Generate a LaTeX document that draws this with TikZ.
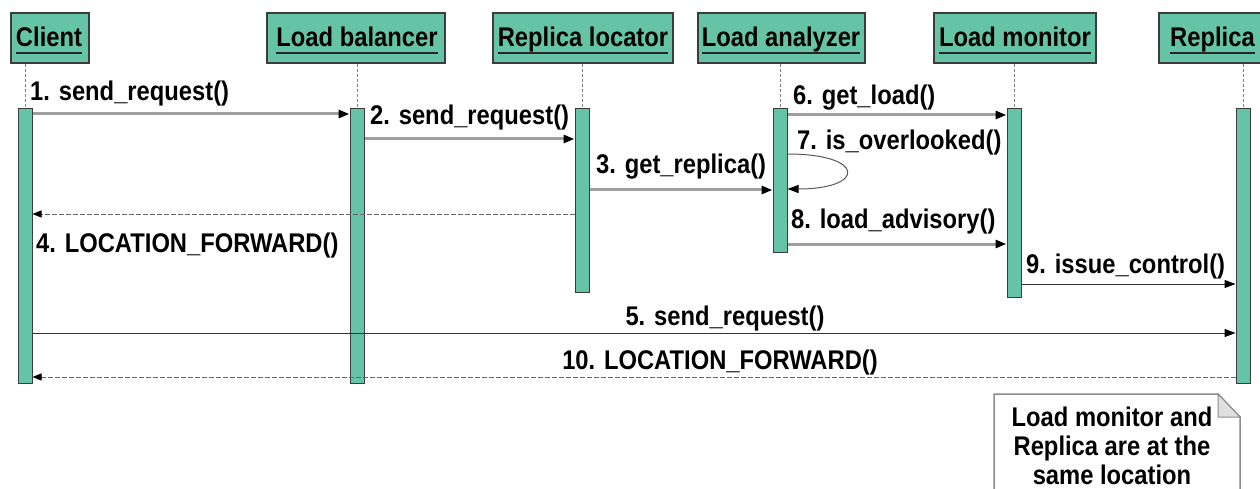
\documentclass[tikz,border=0pt]{standalone}
\usepackage{fontspec}
\setmainfont{Liberation Sans}[FakeStretch=0.88]
\usetikzlibrary{arrows.meta}
\definecolor{lifeteal}{RGB}{102,196,166}
\definecolor{edgegray}{RGB}{60,60,60}
\begin{document}
\begin{tikzpicture}[x=1pt,y=-1pt,
  font=\fontsize{27}{30}\selectfont\bfseries,
  headbox/.style={draw=edgegray, line width=1.5pt, fill=lifeteal, minimum height=50pt, inner sep=0pt},
  headtext/.style={inner sep=0pt, anchor=base},
  bar/.style={draw=edgegray, line width=1pt, fill=lifeteal, minimum width=14pt, inner sep=0pt, anchor=north},
  lifeline/.style={draw=gray, line width=0.8pt, dash pattern=on 3pt off 2pt},
  callmsg/.style={draw=black!38, line width=3pt, -{Triangle[length=11pt,width=8pt,black]}},
  thinmsg/.style={draw=black!80, line width=1pt, -{Triangle[length=11pt,width=8pt,black]}},
  selfmsg/.style={draw=black!65, line width=1pt, -{Triangle[length=11pt,width=8pt,black]}},
  returnmsg/.style={draw=black!60, line width=1pt, dash pattern=on 5pt off 2pt, -{Triangle[length=9pt,width=7pt,black]}},
  lbl/.style={inner sep=0pt, anchor=base west},
  uline/.style={draw=black!85, line width=2pt},
]
\useasboundingbox (0,0) rectangle (1260,489);
\fill[white] (0,0) rectangle (1260,489);

% object headers
\node[headbox, minimum width=78pt]  (h1) at (50,38) {};
\node[headbox, minimum width=178pt] (h2) at (356,38) {};
\node[headbox, minimum width=180pt] (h3) at (583,38) {};
\node[headbox, minimum width=167pt] (h4) at (781.5,38) {};
\node[headbox, minimum width=162pt] (h5) at (1015,38) {};
\node[headbox, minimum width=172pt, anchor=west] (h6) at (1158,38) {};

\node[headtext] (t1) at (49,47) {Client};
\node[headtext] (t2) at (357,47) {Load balancer};
\node[headtext] (t3) at (583,47) {Replica locator};
\node[headtext] (t4) at (781,47) {Load analyzer};
\node[headtext] (t5) at (1015,47) {Load monitor};
\node[headtext, anchor=base west] (t6) at (1170,47) {Replica};
\foreach \t in {t1,t2,t3,t4,t5,t6}
  \draw[uline] ([yshift=-6pt]\t.base west) -- ([yshift=-6pt]\t.base east);

% activation bars
\node[bar, minimum height=275pt] (b1) at (25,108) {};
\node[bar, minimum height=275pt] (b2) at (357,108) {};
\node[bar, minimum height=184pt] (b3) at (582,108) {};
\node[bar, minimum height=144pt] (b4) at (780,108) {};
\node[bar, minimum height=189pt] (b5) at (1014,108) {};
\node[bar, minimum height=275pt] (b6) at (1243,108) {};

% lifelines
\foreach \h/\b in {h1/b1,h2/b2,h3/b3,h4/b4,h5/b5,h6/b6}
  \draw[lifeline] (\b.north |- \h.south) -- (\b.north);

% messages
\draw[callmsg] (b1.east |- 0,114) -- (b2.west |- 0,114);
\draw[callmsg] (b2.east |- 0,139) -- (b3.west |- 0,139);
\draw[callmsg] (b3.east |- 0,190) -- (b4.west |- 0,190);
\draw[returnmsg] (b3.west |- 0,214) -- (b1.east |- 0,214);
\draw[thinmsg] (b1.east |- 0,333) -- (b6.west |- 0,333);
\draw[callmsg] (b4.east |- 0,115) -- (b5.west |- 0,115);
\draw[selfmsg] (b4.east |- 0,154) .. controls (866,154) and (866,189) .. (b4.east |- 0,189);
\draw[callmsg] (b4.east |- 0,244) -- (b5.west |- 0,244);
\draw[thinmsg] (b5.east |- 0,284) -- (b6.west |- 0,284);
\draw[returnmsg] (b6.west |- 0,377) -- (b1.east |- 0,377);

% message labels
\node[lbl] (m1) at (30,101) {1. send\_request()};
\node[lbl] (m2) at (370,125) {2. send\_request()};
\node[lbl] (m3) at (596,174) {3. get\_replica()};
\node[lbl] (m4) at (36,252) {4. LOCATION\_FORWARD()};
\node[lbl, anchor=base] (m5) at (725,325) {5. send\_request()};
\node[lbl] (m6) at (793,105) {6. get\_load()};
\node[lbl] (m7) at (797,150) {7. is\_overlooked()};
\node[lbl] (m8) at (791,228) {8. load\_advisory()};
\node[lbl] (m9) at (1026,273) {9. issue\_control()};
\node[lbl, anchor=base] (m10) at (720,369) {10. LOCATION\_FORWARD()};

% note with folded corner
\draw[draw=black!45, line width=1.5pt, fill=white]
  (994,394) -- (1218,394) -- (1240,417) -- (1240,495) -- (994,495) -- cycle;
\draw[draw=black!45, line width=1pt, fill=black!12]
  (1218,394) -- (1218,417) -- (1240,417) -- cycle;
\node[headtext] (n1) at (1112,426) {Load monitor and};
\node[headtext] (n2) at (1112,455) {Replica are at the};
\node[headtext] (n3) at (1112,484) {same location};
\end{tikzpicture}
\end{document}
